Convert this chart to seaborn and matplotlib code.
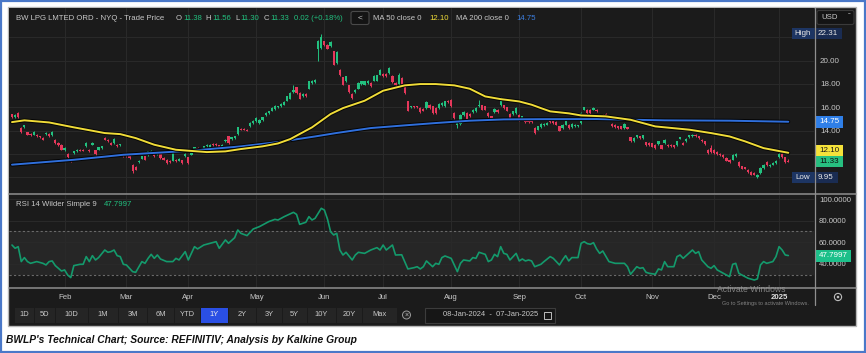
import numpy as np
import matplotlib
matplotlib.use("Agg")
import matplotlib.pyplot as plt
import matplotlib.patheffects as pe
from matplotlib.patches import Rectangle, FancyBboxPatch, Circle
import seaborn as sns

# ---------------- data (trading-day index 0 = 08-Jan-2024 ... 251 = 07-Jan-2025) ----------------
opens = [
    15.40, 15.15, 15.50, 14.22, 14.28, 13.85, 13.70, 13.65, 13.65, 13.50, 13.36, 13.70,
    13.70, 13.59, 13.22, 12.93, 12.79, 12.30, 11.99, 11.56, 12.05, 12.22, 12.33, 12.33,
    12.65, 12.36, 12.79, 12.30, 12.36, 12.50, 13.36, 13.22, 12.93, 12.93, 12.79, 12.75,
    12.05, 11.93, 11.79, 11.08, 10.88, 11.28, 11.59, 11.79, 11.88, 12.02, 12.22, 11.99,
    11.99, 11.65, 11.50, 11.42, 11.42, 11.50, 11.42, 11.45, 11.79, 11.70, 11.93, 12.22,
    12.50, 12.45, 12.45, 12.65, 12.50, 12.85, 12.88, 12.73, 12.56, 13.08, 13.50, 13.28,
    13.36, 13.70, 14.16, 14.14, 14.08, 14.36, 14.65, 14.79, 14.65, 14.88, 15.30, 15.50,
    15.70, 15.85, 15.99, 16.08, 16.22, 16.56, 16.73, 17.30, 17.70, 17.22, 16.93, 17.13,
    17.59, 18.08, 18.16, 21.02, 21.08, 21.65, 21.36, 21.22, 20.79, 19.79, 19.22, 18.56,
    18.22, 17.88, 17.13, 17.30, 17.59, 17.99, 17.93, 18.08, 18.08, 18.28, 18.28, 18.79,
    18.85, 18.85, 18.93, 18.70, 18.08, 17.99, 18.50, 17.70, 16.50, 15.99, 16.08, 16.08,
    15.93, 15.85, 15.93, 16.22, 16.08, 15.93, 15.93, 16.16, 16.08, 16.56, 16.65, 15.50,
    14.50, 14.56, 15.30, 15.50, 15.42, 15.59, 15.65, 16.08, 16.16, 16.08, 15.50, 15.22,
    15.59, 15.79, 16.16, 16.16, 15.99, 15.42, 15.42, 15.50, 15.36, 14.93, 14.93, 14.93,
    14.90, 14.22, 14.08, 14.28, 14.45, 14.50, 14.79, 14.85, 14.73, 14.36, 14.22, 14.50,
    14.50, 14.28, 14.36, 14.36, 14.65, 15.79, 15.79, 15.79, 15.79, 15.79, 15.22, 15.36,
    15.42, 15.13, 14.56, 14.50, 14.36, 14.36, 14.22, 14.28, 13.42, 13.08, 13.42, 13.50,
    13.36, 12.99, 12.93, 12.90, 12.79, 12.85, 12.73, 12.93, 12.79, 12.79, 12.73, 12.73,
    13.30, 12.93, 13.08, 13.42, 13.50, 13.65, 13.50, 13.22, 13.08, 12.36, 12.50, 12.36,
    12.16, 11.99, 11.93, 11.65, 11.50, 11.50, 11.79, 11.30, 10.93, 10.85, 10.65, 10.45,
    10.36, 10.02, 10.36, 10.79, 11.30, 10.93, 11.08, 11.22, 11.70, 11.99, 11.70, 11.38,
]
closes = [
    15.15, 15.35, 15.13, 13.88, 14.45, 13.65, 13.59, 13.88, 13.50, 13.42, 13.22, 13.82,
    13.50, 13.88, 12.93, 12.73, 12.36, 12.50, 11.70, 11.36, 12.22, 12.33, 12.28, 12.28,
    12.93, 12.22, 12.93, 11.99, 12.56, 12.65, 13.22, 13.08, 12.79, 13.28, 12.65, 12.80,
    11.79, 11.79, 11.65, 10.50, 10.65, 11.42, 11.79, 11.50, 12.22, 12.28, 11.79, 12.16,
    11.65, 11.50, 11.22, 11.30, 12.08, 11.36, 11.59, 11.22, 11.99, 11.22, 12.08, 12.56,
    12.28, 12.28, 12.65, 12.79, 12.79, 12.73, 12.73, 12.56, 12.79, 13.22, 12.93, 13.42,
    13.50, 14.28, 14.08, 14.08, 13.99, 14.65, 14.85, 15.08, 14.93, 15.13, 15.50, 15.65,
    15.93, 16.12, 16.08, 16.28, 16.45, 16.93, 17.22, 17.50, 17.22, 16.73, 17.13, 16.93,
    18.22, 18.28, 18.36, 21.70, 21.99, 21.30, 21.02, 21.59, 19.65, 20.73, 18.73, 17.93,
    18.65, 17.30, 16.79, 17.50, 18.08, 18.22, 18.22, 18.28, 17.79, 18.70, 18.73, 19.22,
    18.65, 18.65, 19.36, 18.16, 17.88, 18.79, 17.93, 17.22, 15.70, 16.08, 15.99, 15.99,
    15.59, 15.70, 16.45, 15.93, 15.50, 15.50, 16.28, 16.36, 16.50, 16.45, 16.08, 15.08,
    14.79, 15.36, 15.59, 15.02, 15.22, 15.79, 15.93, 16.22, 15.79, 15.79, 15.22, 15.02,
    15.88, 15.59, 16.79, 15.93, 15.70, 15.08, 15.65, 15.93, 14.85, 15.22, 14.73, 14.73,
    14.75, 13.79, 14.36, 14.56, 14.56, 14.65, 14.73, 14.65, 14.50, 13.99, 14.50, 14.79,
    14.22, 14.56, 14.50, 14.45, 15.50, 15.99, 15.50, 15.50, 15.93, 15.65, 15.08, 15.22,
    15.30, 15.02, 14.36, 14.28, 14.22, 14.16, 14.56, 14.16, 13.08, 13.36, 13.59, 13.36,
    13.59, 12.73, 12.73, 12.62, 12.50, 13.08, 12.45, 13.22, 12.65, 12.65, 12.56, 13.08,
    13.42, 12.79, 13.30, 13.59, 13.65, 13.50, 13.36, 13.08, 12.85, 12.08, 12.16, 12.08,
    11.99, 11.88, 11.70, 11.42, 11.30, 11.93, 11.99, 10.93, 10.73, 10.73, 10.45, 10.22,
    10.22, 10.22, 10.79, 11.08, 11.02, 11.08, 11.22, 11.42, 11.99, 11.70, 11.31, 11.33,
]
highs = [
    15.46, 15.41, 15.56, 14.28, 14.51, 13.91, 13.76, 13.94, 13.71, 13.56, 13.42, 13.88,
    13.76, 13.94, 13.28, 12.99, 12.85, 12.56, 12.05, 11.62, 12.28, 12.39, 12.39, 12.39,
    12.99, 12.42, 12.99, 12.36, 12.62, 12.71, 13.42, 13.28, 12.99, 13.34, 12.85, 12.86,
    12.11, 11.99, 11.85, 11.14, 10.94, 11.48, 11.85, 11.85, 12.28, 12.34, 12.28, 12.22,
    12.05, 11.71, 11.56, 11.48, 12.14, 11.56, 11.65, 11.51, 12.05, 11.76, 12.14, 12.62,
    12.56, 12.51, 12.71, 12.85, 12.85, 12.91, 12.94, 12.79, 12.85, 13.28, 13.56, 13.48,
    13.56, 14.34, 14.22, 14.20, 14.14, 14.71, 14.91, 15.14, 14.99, 15.19, 15.56, 15.71,
    15.99, 16.18, 16.14, 16.34, 16.51, 16.99, 17.28, 17.93, 17.76, 17.28, 17.19, 17.19,
    18.28, 18.34, 18.42, 21.80, 22.31, 21.71, 21.42, 21.65, 20.85, 20.79, 19.28, 18.62,
    18.71, 17.94, 17.19, 17.56, 18.14, 18.28, 18.28, 18.34, 18.14, 18.76, 18.79, 19.28,
    18.91, 18.91, 19.42, 18.76, 18.14, 18.93, 18.56, 17.76, 16.56, 16.14, 16.14, 16.14,
    15.99, 15.91, 16.51, 16.28, 16.14, 15.99, 16.34, 16.42, 16.56, 16.62, 16.71, 15.56,
    14.85, 15.42, 15.65, 15.56, 15.48, 15.85, 15.99, 16.65, 16.22, 16.14, 15.56, 15.28,
    15.94, 15.85, 16.85, 16.22, 16.05, 15.48, 15.71, 15.99, 15.42, 15.28, 14.99, 14.99,
    14.96, 14.28, 14.42, 14.62, 14.62, 14.71, 14.85, 14.91, 14.79, 14.42, 14.56, 14.85,
    14.56, 14.62, 14.56, 14.51, 15.56, 16.05, 15.85, 15.85, 15.99, 15.85, 15.28, 15.42,
    15.48, 15.19, 14.62, 14.56, 14.42, 14.42, 14.62, 14.34, 13.48, 13.42, 13.65, 13.56,
    13.65, 13.05, 12.99, 12.96, 12.85, 13.14, 12.79, 13.28, 12.85, 12.85, 12.79, 13.14,
    13.48, 12.99, 13.36, 13.65, 13.71, 13.71, 13.56, 13.28, 13.14, 12.42, 12.73, 12.42,
    12.22, 12.05, 11.99, 11.71, 11.56, 11.99, 12.05, 11.36, 10.99, 10.91, 10.71, 10.51,
    10.42, 10.28, 10.85, 11.14, 11.36, 11.14, 11.28, 11.48, 12.05, 12.05, 11.76, 11.56,
]
lows = [
    15.09, 15.09, 15.07, 13.76, 14.22, 13.59, 13.53, 13.59, 13.44, 13.36, 13.16, 13.64,
    13.44, 13.53, 12.87, 12.67, 12.30, 12.24, 11.64, 11.30, 11.99, 12.16, 12.22, 12.22,
    12.59, 12.16, 12.73, 11.93, 12.30, 12.44, 13.16, 13.02, 12.73, 12.87, 12.59, 12.69,
    11.73, 11.73, 11.59, 10.36, 10.59, 11.22, 11.53, 11.44, 11.82, 11.96, 11.73, 11.93,
    11.59, 11.44, 11.16, 11.24, 11.36, 11.30, 11.36, 11.16, 11.73, 11.16, 11.87, 12.16,
    12.22, 12.22, 12.39, 12.59, 12.44, 12.67, 12.67, 12.50, 12.50, 13.02, 12.87, 13.22,
    13.30, 13.64, 14.02, 14.02, 13.93, 14.30, 14.59, 14.73, 14.59, 14.82, 15.24, 15.44,
    15.64, 15.79, 15.93, 16.02, 16.16, 16.50, 16.67, 17.24, 17.16, 16.67, 16.87, 16.87,
    17.53, 18.02, 18.10, 19.93, 21.00, 21.24, 20.96, 21.16, 19.59, 19.73, 18.67, 17.87,
    18.16, 17.24, 16.73, 17.24, 17.53, 17.93, 17.87, 18.02, 17.73, 18.22, 18.22, 18.73,
    18.59, 18.59, 18.87, 18.10, 17.82, 17.93, 17.87, 17.16, 15.64, 15.93, 15.93, 15.93,
    15.53, 15.64, 15.87, 15.87, 15.44, 15.44, 15.87, 16.10, 16.02, 16.39, 16.02, 15.02,
    14.22, 14.50, 15.24, 14.96, 15.16, 15.53, 15.59, 16.02, 15.73, 15.73, 15.16, 14.96,
    15.53, 15.53, 16.10, 15.87, 15.64, 15.02, 15.36, 15.44, 14.79, 14.87, 14.67, 14.67,
    14.69, 13.73, 14.02, 14.22, 14.39, 14.44, 14.67, 14.59, 14.44, 13.93, 14.16, 14.44,
    14.16, 14.22, 14.30, 14.30, 14.59, 15.73, 15.44, 15.44, 15.73, 15.59, 15.02, 15.16,
    15.24, 14.96, 14.30, 14.22, 14.16, 14.10, 14.16, 14.10, 13.02, 13.02, 13.36, 13.30,
    13.30, 12.67, 12.67, 12.56, 12.44, 12.79, 12.39, 12.87, 12.59, 12.59, 12.50, 12.67,
    13.24, 12.73, 13.02, 13.36, 13.44, 13.44, 13.30, 13.02, 12.79, 12.02, 12.10, 12.02,
    11.93, 11.82, 11.64, 11.36, 11.24, 11.44, 11.73, 10.87, 10.67, 10.67, 10.39, 10.16,
    10.16, 9.95, 10.30, 10.73, 10.96, 10.87, 11.02, 11.16, 11.64, 11.64, 11.25, 11.30,
]
ma50_days = [0, 4, 12, 20, 30, 35, 40, 46, 53, 57, 63, 69, 74, 81, 86, 90, 97, 103, 107,
             114, 120, 127, 132, 137, 143, 148, 153, 158, 164, 168, 171, 174, 180, 184,
             192, 200, 208, 219, 226, 232, 237, 243, 251]
ma50_values = [14.73, 14.88, 14.70, 14.28, 13.79, 13.70, 13.36, 12.79, 12.36, 12.28, 12.16,
               12.22, 12.42, 12.65, 12.90, 13.28, 14.28, 15.42, 15.93, 16.56, 17.42, 17.88,
               17.99, 17.99, 17.88, 17.59, 16.93, 16.70, 16.50, 16.22, 15.93, 15.65, 15.48,
               15.30, 15.22, 14.93, 14.36, 14.08, 13.79, 13.50, 13.08, 12.50, 12.10]
ma200_days = [0, 20, 36, 58, 74, 86, 98, 105, 116, 127, 137, 148, 159, 170, 189, 211, 232, 251]
ma200_values = [11.08, 11.50, 11.93, 12.28, 12.65, 13.02, 13.50, 13.80, 14.22, 14.45, 14.65,
                14.85, 14.96, 14.98, 14.99, 14.88, 14.85, 14.76]
rsi_days = [0, 1, 2, 3, 4, 5, 6, 8, 10, 11,
            12, 13, 14, 16, 17, 18, 19, 20, 22, 23,
            24, 25, 26, 27, 28, 30, 31, 32, 33, 34,
            35, 36, 37, 39, 40, 42, 43, 44, 45, 46,
            47, 48, 50, 52, 53, 54, 56, 57, 59, 60,
            62, 64, 66, 67, 69, 70, 72, 73, 74, 76,
            78, 80, 83, 85, 86, 88, 91, 92, 93, 95,
            96, 97, 98, 100, 101, 102, 103, 104, 105, 106,
            107, 108, 110, 111, 112, 114, 115, 116, 118, 119,
            120, 121, 123, 124, 126, 128, 130, 131, 132, 133,
            134, 136, 137, 138, 139, 140, 142, 144, 145, 146,
            148, 149, 150, 151, 152, 153, 154, 155, 156, 157,
            158, 159, 160, 161, 162, 163, 164, 165, 166, 167,
            168, 169, 171, 172, 174, 175, 177, 178, 179, 180,
            181, 183, 184, 185, 186, 187, 188, 189, 190, 191,
            193, 195, 198, 199, 200, 202, 203, 204, 205, 206,
            208, 209, 210, 211, 212, 214, 215, 216, 217, 220,
            221, 222, 223, 225, 226, 227, 228, 230, 232, 233,
            234, 235, 236, 238, 240, 241, 242, 243, 244, 246,
            247, 248, 249, 250, 251]
rsi_values = [57.5, 54.5, 56.0, 42.2, 45.9, 42.2, 40.6, 42.2, 40.6, 39.1,
              42.2, 42.8, 38.5, 33.5, 34.5, 29.8, 27.4, 38.5, 39.7, 39.7,
              46.8, 42.2, 47.7, 43.7, 45.9, 52.9, 50.8, 51.4, 52.9, 47.7,
              46.8, 39.7, 39.1, 32.9, 32.3, 42.2, 40.6, 45.2, 48.9, 45.2,
              48.3, 44.6, 42.2, 42.2, 45.2, 43.7, 51.4, 43.7, 56.0, 53.9,
              57.5, 59.1, 60.6, 54.5, 62.2, 59.1, 64.3, 71.4, 68.3, 66.2,
              72.3, 74.5, 79.1, 81.2, 80.6, 83.7, 87.7, 85.8, 76.6, 78.5,
              83.7, 80.6, 82.2, 91.4, 89.8, 81.5, 69.8, 66.8, 68.3, 52.9,
              48.3, 50.8, 43.7, 48.3, 50.8, 49.8, 51.4, 52.9, 55.1, 52.9,
              57.5, 52.9, 57.5, 48.3, 48.5, 35.4, 36.6, 37.5, 35.4, 37.5,
              42.8, 37.5, 40.6, 39.7, 45.9, 47.4, 45.2, 32.9, 40.6, 43.7,
              42.8, 45.9, 45.2, 50.8, 49.8, 48.9, 42.2, 43.7, 48.9, 46.8,
              56.0, 49.8, 48.9, 43.7, 46.8, 49.8, 42.8, 44.6, 42.8, 43.7,
              42.8, 37.5, 39.7, 42.2, 46.8, 45.2, 39.1, 43.7, 47.7, 42.8,
              45.9, 45.9, 59.1, 60.6, 58.8, 58.2, 59.7, 53.9, 49.8, 52.0,
              42.2, 40.6, 40.6, 37.5, 30.5, 37.5, 36.0, 36.6, 32.3, 31.4,
              30.5, 35.4, 34.5, 42.2, 37.5, 37.5, 46.8, 48.3, 45.2, 52.9,
              49.8, 51.4, 43.7, 37.5, 36.0, 38.5, 34.5, 31.4, 28.3, 39.7,
              40.6, 31.4, 29.8, 26.8, 25.2, 26.2, 39.1, 42.2, 40.6, 42.2,
              46.8, 56.0, 52.9, 48.3, 47.8]
month_days = [17, 37, 57, 79, 101, 120, 142, 164, 184, 207, 227, 248]
month_labels = ["Feb", "Mar", "Apr", "May", "Jun", "Jul", "Aug", "Sep", "Oct", "Nov", "Dec", "2025"]
price_ticks = [10, 12, 14, 16, 18, 20, 22]
price_tick_labels = ["", "", "14.00", "16.00", "18.00", "20.00", ""]
rsi_ticks = [40, 60, 80, 100]
rsi_tick_labels = ["40.0000", "60.0000", "80.0000", "100.0000"]
range_buttons = ["1D", "5D", "10D", "1M", "3M", "6M", "YTD", "1Y", "2Y", "3Y", "5Y", "10Y", "20Y", "Max"]
last_open, last_high, last_low, last_close, last_change, last_pct = 11.38, 11.56, 11.30, 11.33, 0.02, 0.18
ma50_last, ma200_last = 12.10, 14.75
period_high, period_low = 22.31, 9.95
rsi_last = 47.7997

# ---------------- style ----------------
sns.set_theme(style="dark")
plt.rcParams["font.family"] = ["Liberation Sans", "DejaVu Sans"]

W, H = 866, 353
BG = "#1b1b1b"
TXT = "#c8c8c8"
GREEN = "#22c07f"
RED = "#e5385b"
GRID = "#2a2a2a"
SEP = "#8f8f8f"
YEL = "#f0dc38"
BLUE = "#2f6fdc"

fig = plt.figure(figsize=(W / 100, H / 100), dpi=100, facecolor="white")


def frac(x0, y0, x1, y1):
    return [x0 / W, 1 - y1 / H, (x1 - x0) / W, (y1 - y0) / H]


deco = fig.add_axes([0, 0, 1, 1])
deco.set_xlim(0, W)
deco.set_ylim(H, 0)
deco.axis("off")
deco.add_patch(Rectangle((8, 7), 848, 319, facecolor=BG, edgecolor="#b8b8b8", lw=1.0))

# ---------------- price panel ----------------
PX0, PX1, PY0, PY1 = 8.5, 814.0, 8.0, 193.5
ax = fig.add_axes(frac(PX0, PY0, PX1, PY1))
ax.set_facecolor(BG)
days = np.arange(len(opens))
for s in ax.spines.values():
    s.set_visible(False)
ax.set_yticks(price_ticks)
ax.set_yticklabels(price_tick_labels)
ax.yaxis.tick_right()
ax.tick_params(axis="y", length=0, pad=4.3, labelsize=5.8, labelcolor=TXT)
ax.set_xticks(month_days)
ax.set_xticklabels([])
ax.tick_params(axis="x", length=0)
ax.grid(True, color=GRID, lw=0.7)

o = np.array(opens)
c = np.array(closes)
up = c >= o
cols = np.where(up, GREEN, RED)
body = c - o
body = np.where(np.abs(body) < 0.06, np.where(up, 0.06, -0.06), body)
ax.vlines(days, lows, highs, colors=cols, lw=0.7, zorder=3)
ax.bar(days, body, bottom=o, width=0.72, color=cols, lw=0, zorder=4)

outline = [pe.Stroke(linewidth=2.8, foreground="#050505"), pe.Normal()]
sns.lineplot(x=ma200_days, y=ma200_values, ax=ax, color=BLUE, lw=1.4, zorder=5, path_effects=outline)
sns.lineplot(x=ma50_days, y=ma50_values, ax=ax, color=YEL, lw=1.4, zorder=6, path_effects=outline)
ax.set_xlabel("")
ax.set_ylabel("")
ax.set_xlim(-1.13, 259.3)
ax.set_ylim(8.61, 24.51)


def value_box(axis, x0px, x1px, ax_x0, ax_x1, ppu, val, hpx, fc, text, tc, fs=5.8, bold=False):
    w = ax_x1 - ax_x0
    a0 = (x0px - ax_x0) / w
    a1 = (x1px - ax_x0) / w
    hh = hpx / ppu
    axis.add_patch(Rectangle((a0, val - hh / 2), a1 - a0, hh, transform=axis.get_yaxis_transform(),
                             facecolor=fc, edgecolor="none", clip_on=False, zorder=10))
    axis.text((a0 + a1) / 2, val, text, transform=axis.get_yaxis_transform(), ha="center", va="center",
              fontsize=fs, color=tc, clip_on=False, zorder=11, fontweight="bold" if bold else "normal")


PPU = (PY1 - PY0) / (24.51 - 8.61)
value_box(ax, 815, 843, PX0, PX1, PPU, ma200_last, 11.5, "#2f7fe8", f"{ma200_last:.2f}", "white")
value_box(ax, 815, 843, PX0, PX1, PPU, ma50_last + 0.22, 11, "#f5e23a", f"{ma50_last:.2f}", "#1a1a1a")
value_box(ax, 815, 843, PX0, PX1, PPU, last_close + 0.02, 11, "#27bf80", f"{last_close:.2f}", "#0d0d0d")
value_box(ax, 792, 814, PX0, PX1, PPU, period_high, 11, "#1d3563", "High", "#e8e8e8")
value_box(ax, 814, 842, PX0, PX1, PPU, period_high, 11, "#1a2c52", f"{period_high:.2f}", "#e8e8e8")
value_box(ax, 792, 814, PX0, PX1, PPU, period_low, 11, "#1d3563", "Low", "#e8e8e8")
value_box(ax, 814, 838, PX0, PX1, PPU, period_low, 11, "#1a2c52", f"{period_low:.2f}", "#e8e8e8")

# ---------------- RSI panel ----------------
RX0, RX1, RY0, RY1 = 8.5, 814.0, 194.5, 288.0
ax2 = fig.add_axes(frac(RX0, RY0, RX1, RY1))
ax2.set_facecolor(BG)
for s in ax2.spines.values():
    s.set_visible(False)
ax2.axhspan(30, 70, color="#262626", lw=0, zorder=0)
ax2.set_yticks(rsi_ticks)
ax2.set_yticklabels(rsi_tick_labels)
ax2.yaxis.tick_right()
ax2.tick_params(axis="y", length=0, pad=3.6, labelsize=5.6, labelcolor=TXT)
ax2.set_xticks(month_days)
ax2.set_xticklabels(month_labels)
ax2.tick_params(axis="x", length=0, pad=4.0, labelsize=5.6, labelcolor=TXT)
ax2.get_xticklabels()[-1].set_fontweight("bold")
ax2.get_xticklabels()[-1].set_color("#e0e0e0")
ax2.grid(True, color=GRID, lw=0.7)
for lvl in (30, 70):
    ax2.axhline(lvl, color="#6a6a6a", lw=0.8, ls=(0, (2, 2)), zorder=1)
sns.lineplot(x=rsi_days, y=rsi_values, ax=ax2, color="#149a6c", lw=1.2, zorder=4)
ax2.set_xlabel("")
ax2.set_ylabel("")
ax2.set_xlim(-1.13, 259.3)
ax2.set_ylim(17.82, 104.16)
RPPU = (RY1 - RY0) / (104.16 - 17.82)
value_box(ax2, 815, 851, RX0, RX1, RPPU, rsi_last, 12, "#1cc08a", f"{rsi_last:.4f}", "white")

# ---------------- overlay: texts, separators, controls ----------------
ov = fig.add_axes([0, 0, 1, 1])
ov.set_xlim(0, W)
ov.set_ylim(H, 0)
ov.axis("off")
ov.patch.set_alpha(0)

FS = 5.6
ov.text(16, 18, "BW LPG LMTED ORD - NYQ - Trade Price", fontsize=FS, color=TXT, va="center")
hdr = [("O", 176), (f"{last_open:.2f}", 183), ("H", 205.5), (f"{last_high:.2f}", 212.5),
       ("L", 235.5), (f"{last_low:.2f}", 240.5), ("C", 263.5), (f"{last_close:.2f}", 270.5),
       (f"{last_change:.2f} (+{last_pct:.2f}%)", 293.5)]
for t, x in hdr:
    is_key = t in ("O", "H", "L", "C")
    ov.text(x, 18, t, fontsize=FS, color=TXT if is_key else GREEN, va="center")
ov.add_patch(FancyBboxPatch((351, 11.5), 18, 13, boxstyle="round,pad=0,rounding_size=2",
                            facecolor="#141414", edgecolor="#4a4a4a", lw=0.8))
ov.text(360, 18, "<", fontsize=6, color=TXT, ha="center", va="center")
ov.text(373, 18, "MA 50 close 0", fontsize=FS, color=TXT, va="center")
ov.text(429.5, 18, f"{ma50_last:.2f}", fontsize=FS, color=YEL, va="center")
ov.text(456, 18, "MA 200 close 0", fontsize=FS, color=TXT, va="center")
ov.text(516.5, 18, f"{ma200_last:.2f}", fontsize=FS, color="#3d7fe0", va="center")
ov.add_patch(FancyBboxPatch((817, 10.5), 37, 14, boxstyle="round,pad=0,rounding_size=2",
                            facecolor="#141414", edgecolor="#3a3a3a", lw=0.8))
ov.text(821, 17.5, "USD", fontsize=FS, color=TXT, va="center")
ov.text(849, 17, "ˇ", fontsize=6, color=TXT, va="center", ha="center")

ov.text(16, 205, "RSI 14 Wilder Simple 9", fontsize=FS, color=TXT, va="center")
ov.text(104, 205, f"{rsi_last:.4f}", fontsize=FS, color=GREEN, va="center")

# separators
ov.plot([8.5, 855.5], [193.8, 193.8], color=SEP, lw=1.1)
ov.plot([8.5, 855.5], [288.3, 288.3], color=SEP, lw=1.1)
ov.plot([814.5, 814.5], [7.5, 305], color=SEP, lw=0.9)

# watermark
ov.text(717, 289.8, "Activate Windows", fontsize=6.2, color="#9a9a9a", va="center", alpha=0.8)
ov.text(722, 303.2, "Go to Settings to activate Windows.", fontsize=4.0, color="#9a9a9a", va="center", alpha=0.8)
ov.add_patch(Circle((838, 297), 3.6, facecolor="none", edgecolor="#bdbdbd", lw=0.8))
ov.add_patch(Circle((838, 297), 1.3, facecolor="#bdbdbd", edgecolor="none"))

# range buttons (contiguous cells)
btn_edges = [14, 34, 55, 88, 118, 147, 174, 200, 228, 256, 282, 307, 336, 362, 397]
for i, lab in enumerate(range_buttons):
    x0, x1 = btn_edges[i], btn_edges[i + 1]
    fc = "#2a4fe4" if lab == "1Y" else "#252525"
    ov.add_patch(Rectangle((x0 + 0.5, 307.5), x1 - x0 - 1, 15, facecolor=fc, edgecolor="none"))
    ov.text((x0 + x1) / 2, 315, lab, fontsize=5.4, color="#ededed" if lab == "1Y" else TXT,
            ha="center", va="center")
ov.add_patch(Circle((406.5, 315), 4, facecolor="#252525", edgecolor="#9a9a9a", lw=0.7))
ov.text(406.5, 315, "×", fontsize=5, color="#bbbbbb", ha="center", va="center")
ov.add_patch(Rectangle((425, 307.5), 130, 15, facecolor="#161616", edgecolor="#3c3c3c", lw=0.8))
ov.text(491, 315, "08-Jan-2024  -  07-Jan-2025", fontsize=5.4, color=TXT, ha="center", va="center")
ov.add_patch(Rectangle((543.5, 311.5), 7, 7, facecolor="none", edgecolor="#bdbdbd", lw=0.7))

# caption and outer border
ov.text(6, 340, "BWLP's Technical Chart; Source: REFINITIV; Analysis by Kalkine Group",
        fontsize=7.4, fontweight="bold", fontstyle="italic", color="#111111", va="center")
ov.add_patch(Rectangle((0.8, 0.8), W - 1.6, H - 1.6, facecolor="none", edgecolor="#4a78c8", lw=1.6))

fig.savefig("out.png", dpi=100, facecolor="white")
